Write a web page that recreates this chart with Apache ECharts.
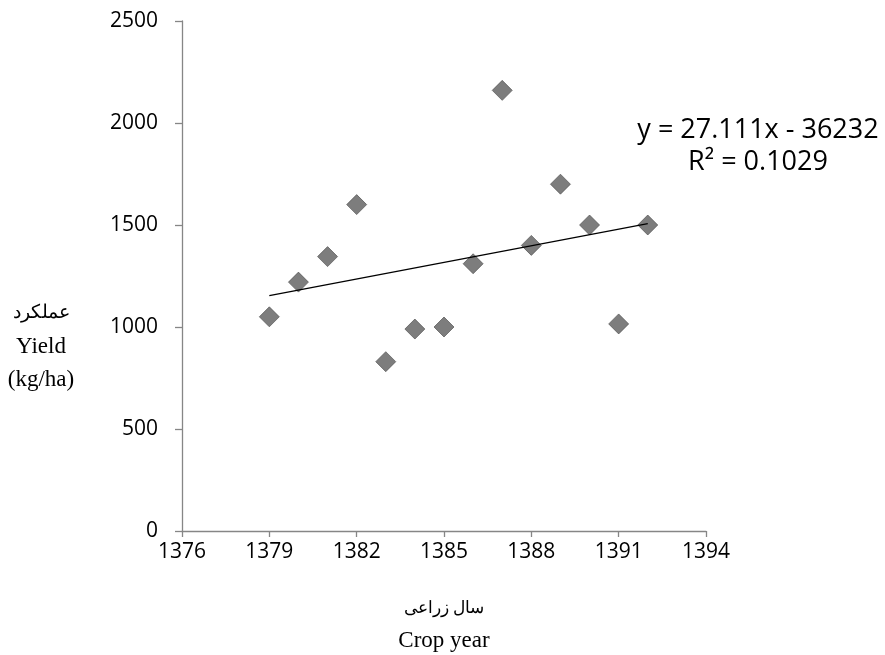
<!DOCTYPE html>
<html><head><meta charset="utf-8">
<script src="https://cdn.jsdelivr.net/npm/echarts@6/dist/echarts.min.js"></script>
<style>html,body{margin:0;padding:0;background:#fff}#c{width:885px;height:655px}</style>
</head><body><div id="c"></div>
<script>
const years = [1379,1380,1381,1382,1383,1384,1385,1386,1387,1388,1389,1390,1391,1392];
const yieldVals = [1050,1220,1345,1600,830,990,1000,1310,2160,1400,1700,1500,1015,1500];
const trendSlope = 27.111;
const trendIntercept = -36232;
const trendR2 = 0.1029;
const xTicks = [1376,1379,1382,1385,1388,1391,1394];
const yTicks = [0,500,1000,1500,2000,2500];

const pts = years.map((x,i)=>[x,yieldVals[i]]);
const x0 = years[0], x1 = years[years.length-1];
const trend = [[x0, trendSlope*x0+trendIntercept],[x1, trendSlope*x1+trendIntercept]];

const chart = echarts.init(document.getElementById('c'));
const axisCol = '#868686';
const lblFont = '"Open Sans", "Liberation Sans", sans-serif';
const serif = '"Liberation Serif", "DejaVu Serif", serif';
chart.setOption({
  animation:false,
  grid:{left:182,right:179,top:21,bottom:124},
  xAxis:{type:'value',min:xTicks[0],max:xTicks[xTicks.length-1],interval:3,
    axisLine:{lineStyle:{color:axisCol,width:1.3}},
    axisTick:{length:6,lineStyle:{color:axisCol,width:1.3}},
    splitLine:{show:false},
    axisLabel:{color:'#000',fontSize:21,fontFamily:lblFont,margin:11,formatter:v=>String(v)}},
  yAxis:{type:'value',min:yTicks[0],max:yTicks[yTicks.length-1],interval:500,
    axisLine:{show:true,lineStyle:{color:axisCol,width:1.3}},
    axisTick:{show:true,length:7,lineStyle:{color:axisCol,width:1.3}},
    splitLine:{show:false},
    axisLabel:{color:'#000',fontSize:21,fontFamily:lblFont,margin:24,formatter:v=>String(v)}},
  series:[
    {type:'line',data:trend,symbol:'none',lineStyle:{color:'#000',width:1.3},z:3},
    {type:'scatter',data:pts,symbol:'diamond',symbolSize:[20,20],
      itemStyle:{color:'#5c5c5c',borderColor:'#4a4a4a',borderWidth:0.8},z:2}
  ],
  graphic:[
    {type:'text',x:758,y:114,style:{text:'y = '+trendSlope+'x - '+Math.abs(trendIntercept)+'\nR² = '+trendR2,
      align:'center',fontSize:27,lineHeight:32,fontFamily:lblFont,fill:'#000'}},
    {type:'text',x:41,y:297,style:{text:'{a|عملکرد}\n{b|Yield}\n{b|(kg/ha)}',align:'center',
      rich:{a:{fontSize:19,lineHeight:33,fontFamily:serif,fill:'#000',align:'center'},
            b:{fontSize:23,lineHeight:33,fontFamily:serif,fill:'#000',align:'center'}}}},
    {type:'text',x:444,y:593,style:{text:'{a|سال زراعی}\n{b|Crop year}',align:'center',
      rich:{a:{fontSize:17,lineHeight:32,fontFamily:serif,fill:'#000',align:'center'},
            b:{fontSize:23,lineHeight:32,fontFamily:serif,fill:'#000',align:'center'}}}}
  ]
});
</script></body></html>
